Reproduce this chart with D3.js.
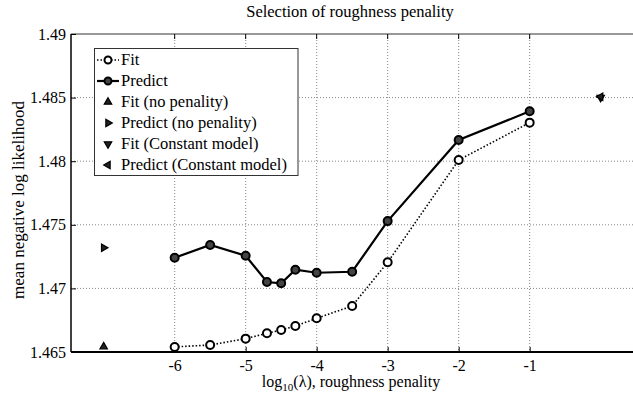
<!DOCTYPE html>
<html>
<head>
<meta charset="utf-8">
<script src="https://d3js.org/d3.v7.min.js"></script>
<style>
  body { margin: 0; background: white; }
  svg text { font-family: "Liberation Serif", "DejaVu Serif", serif !important; fill: black; }
</style>
</head>
<body>
<svg width="633" height="397"></svg>
<script>
  // log10(lambda) values and the two curves
  const lambdas = [-6, -5.5, -5, -4.7, -4.5, -4.3, -4, -3.5, -3, -2, -1];
  const fit     = [1.4654, 1.46555, 1.46605, 1.46647, 1.46673, 1.46704, 1.46765, 1.46862, 1.47205, 1.48009, 1.48303];
  const predict = [1.47241, 1.47341, 1.47257, 1.4705, 1.4704, 1.47147, 1.47123, 1.47131, 1.47529, 1.48167, 1.48392];

  // single points
  const noPenaltyX = -7;
  const fitNoPenalty = 1.46542;
  const predictNoPenalty = 1.4732;
  const constantX = 0;
  const fitConstant = 1.4850;
  const predictConstant = 1.48507;

  const xTicks = [-6, -5, -4, -3, -2, -1];
  const yTicks = [1.465, 1.47, 1.475, 1.48, 1.485, 1.49];

  const legendLabels = ['Fit', 'Predict', 'Fit (no penality)', 'Predict (no penality)',
                        'Fit (Constant model)', 'Predict (Constant model)'];

  const svg = d3.select('svg');
  const plotLeft = 71, plotTop = 34, plotBottom = 352;

  const x = d3.scaleLinear().domain([-7.46, 0.5]).range([plotLeft, plotLeft + 7.96 * 71]);
  const y = d3.scaleLinear().domain([1.465, 1.49]).range([plotBottom, plotTop]);
  const plotRight = x(0.5);

  // grid
  svg.append('g')
    .selectAll('line')
    .data(xTicks)
    .join('line')
    .attr('x1', d => x(d)).attr('x2', d => x(d))
    .attr('y1', plotTop).attr('y2', plotBottom)
    .attr('stroke', '#888').attr('stroke-width', 1)
    .attr('stroke-dasharray', '1,2');

  svg.append('g')
    .selectAll('line')
    .data(yTicks.slice(1, -1))
    .join('line')
    .attr('x1', plotLeft).attr('x2', plotRight)
    .attr('y1', d => y(d)).attr('y2', d => y(d))
    .attr('stroke', '#888').attr('stroke-width', 1)
    .attr('stroke-dasharray', '1,2');

  // frame
  svg.append('line')
    .attr('x1', plotLeft).attr('x2', plotRight).attr('y1', plotTop).attr('y2', plotTop)
    .attr('stroke', '#999').attr('stroke-width', 2);

  // axes
  const xAxis = svg.append('g')
    .attr('transform', `translate(0,${plotBottom})`)
    .call(d3.axisBottom(x).tickValues(xTicks).tickSize(-5).tickPadding(8).tickFormat(d => String(d)));
  xAxis.select('.domain').attr('stroke', 'black').attr('stroke-width', 2)
    .attr('d', `M${plotLeft},0H${plotRight}`);
  xAxis.selectAll('text').style('font-size', '16px');

  const yAxis = svg.append('g')
    .attr('transform', `translate(${plotLeft},0)`)
    .call(d3.axisLeft(y).tickValues(yTicks).tickSize(-5).tickPadding(5).tickFormat(d => String(+d.toFixed(3))));
  yAxis.select('.domain').attr('stroke', 'black').attr('stroke-width', 1.5)
    .attr('d', `M0,${plotBottom}V${plotTop}`);
  yAxis.selectAll('text').style('font-size', '16px');

  // top ticks
  svg.append('g')
    .selectAll('line')
    .data(xTicks)
    .join('line')
    .attr('x1', d => x(d)).attr('x2', d => x(d))
    .attr('y1', plotTop).attr('y2', plotTop + 5)
    .attr('stroke', 'black');

  // curves
  const line = d3.line().x(d => x(d[0])).y(d => y(d[1]));
  const fitPts = lambdas.map((l, i) => [l, fit[i]]);
  const predPts = lambdas.map((l, i) => [l, predict[i]]);

  svg.append('path').datum(fitPts).attr('d', line)
    .attr('fill', 'none').attr('stroke', 'black').attr('stroke-width', 1.6)
    .attr('stroke-dasharray', '1.5,2');
  svg.append('path').datum(predPts).attr('d', line)
    .attr('fill', 'none').attr('stroke', 'black').attr('stroke-width', 2.2);

  svg.append('g').selectAll('circle').data(fitPts).join('circle')
    .attr('cx', d => x(d[0])).attr('cy', d => y(d[1])).attr('r', 4)
    .attr('fill', 'white').attr('stroke', 'black').attr('stroke-width', 2);
  svg.append('g').selectAll('circle').data(predPts).join('circle')
    .attr('cx', d => x(d[0])).attr('cy', d => y(d[1])).attr('r', 4)
    .attr('fill', '#444').attr('stroke', 'black').attr('stroke-width', 2);

  // triangle markers
  const tri = d3.symbol().type(d3.symbolTriangle).size(24)();
  function marker(g, cx, cy, rot) {
    g.append('path').attr('d', tri)
      .attr('transform', `translate(${cx},${cy}) rotate(${rot})`)
      .attr('fill', '#222').attr('stroke', 'black').attr('stroke-width', 1.2);
  }
  marker(svg, x(noPenaltyX), y(fitNoPenalty), 0);
  marker(svg, x(noPenaltyX), y(predictNoPenalty), 90);
  marker(svg, x(constantX), y(fitConstant), 180);
  marker(svg, x(constantX), y(predictConstant), -90);

  // legend
  const lg = svg.append('g');
  lg.append('rect')
    .attr('x', 94.5).attr('y', 48.5).attr('width', 203.5).attr('height', 127)
    .attr('fill', 'white').attr('stroke', '#333').attr('stroke-width', 1);

  legendLabels.forEach((label, i) => {
    const ly = 60 + i * 21;
    if (i === 0) {
      lg.append('line').attr('x1', 97).attr('x2', 119).attr('y1', ly).attr('y2', ly)
        .attr('stroke', 'black').attr('stroke-width', 1.6).attr('stroke-dasharray', '1.5,2');
      lg.append('circle').attr('cx', 108).attr('cy', ly).attr('r', 3.5)
        .attr('fill', 'white').attr('stroke', 'black').attr('stroke-width', 2);
    } else if (i === 1) {
      lg.append('line').attr('x1', 97).attr('x2', 119).attr('y1', ly).attr('y2', ly)
        .attr('stroke', 'black').attr('stroke-width', 2.2);
      lg.append('circle').attr('cx', 108).attr('cy', ly).attr('r', 3.5)
        .attr('fill', '#444').attr('stroke', 'black').attr('stroke-width', 2);
    } else {
      marker(lg, 108, ly, [0, 90, 180, -90][i - 2]);
    }
    lg.append('text').attr('x', 121).attr('y', ly + 5)
      .style('font-size', '16.5px').text(label);
  });

  // title and labels
  svg.append('text').attr('x', 350).attr('y', 17).attr('text-anchor', 'middle')
    .style('font-size', '16.5px').text('Selection of roughness penality');

  svg.append('text')
    .attr('transform', `translate(24,200) rotate(-90)`)
    .attr('text-anchor', 'middle').style('font-size', '17px')
    .text('mean negative log likelihood');

  const xl = svg.append('text').attr('x', 351).attr('y', 387)
    .attr('text-anchor', 'middle').style('font-size', '16px');
  xl.append('tspan').text('log');
  xl.append('tspan').attr('dy', 4).style('font-size', '11px').text('10');
  xl.append('tspan').attr('dy', -4).text('(λ), roughness penality');
</script>
</body>
</html>
